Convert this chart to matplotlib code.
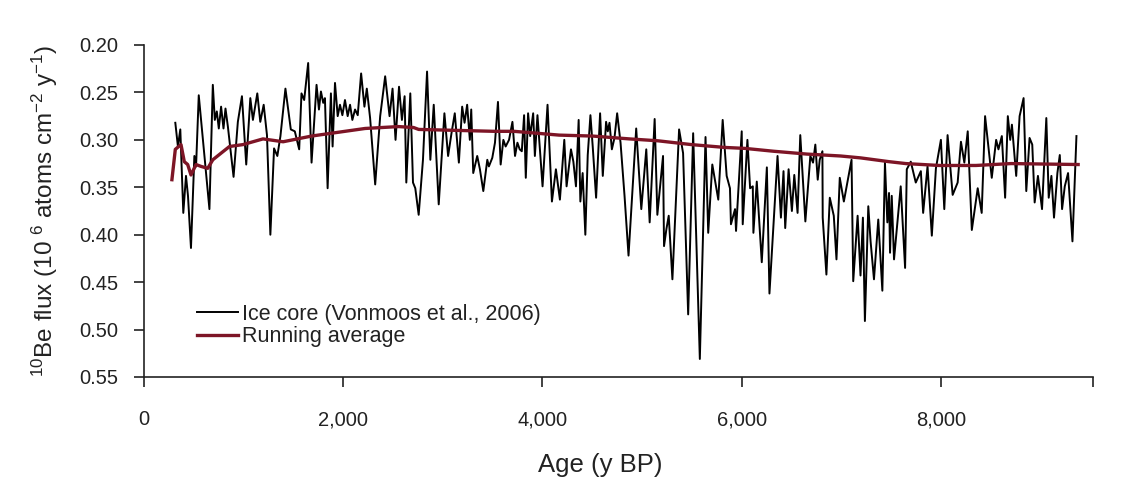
import matplotlib
matplotlib.use("Agg")
import matplotlib.pyplot as plt
from matplotlib.ticker import FixedLocator, FixedFormatter

plt.rcParams['font.family'] = ['Liberation Sans', 'DejaVu Sans']
plt.rcParams['mathtext.fontset'] = 'custom'
plt.rcParams['mathtext.rm'] = 'Liberation Sans'
plt.rcParams['mathtext.it'] = 'Liberation Sans'
plt.rcParams['mathtext.default'] = 'regular'

# ---- data ----
ice_age = [319, 345, 369, 399, 426, 446, 476, 510, 527, 554, 661, 695, 715, 735, 755, 778, 802, 822, 846,
           903, 946, 987, 1030, 1071, 1097, 1141, 1171, 1205, 1238, 1272, 1309, 1342, 1373,
           1423, 1477, 1517, 1561, 1584, 1611, 1651, 1685, 1735, 1759, 1779, 1802, 1819, 1846, 1879, 1896,
           1920, 1947, 1970, 1994, 2020, 2047, 2071, 2094, 2121, 2148, 2182, 2215, 2239, 2272, 2323, 2373,
           2423, 2467, 2497, 2527, 2562, 2591, 2618, 2635, 2675, 2702, 2725, 2759, 2802, 2843, 2876, 2910,
           2960, 3017, 3054, 3088, 3121, 3162, 3195, 3219, 3245, 3272, 3286, 3306, 3346, 3373, 3407, 3447,
           3463, 3497, 3524, 3554, 3581, 3608, 3631, 3665, 3699,
           3725, 3749, 3772, 3793, 3816, 3833, 3856, 3877, 3907, 3924, 3950, 4001, 4051, 4095, 4135, 4175,
           4219, 4242, 4286, 4310, 4336, 4363, 4380, 4403, 4430, 4454, 4481, 4504, 4538, 4578, 4605, 4638,
           4655, 4672, 4696, 4722, 4749, 4783, 4823, 4863,
           4940, 4991, 5041, 5075, 5125, 5152, 5209, 5219, 5243, 5266, 5303, 5370, 5410, 5461, 5511, 5578,
           5635, 5662, 5703, 5763, 5807, 5847, 5880, 5890, 5931, 5941, 5998,
           6008, 6055, 6082, 6109, 6115, 6149, 6199, 6250, 6276, 6357, 6391, 6417, 6434, 6468, 6501, 6525,
           6558, 6585, 6636, 6686, 6713, 6736, 6760, 6780, 6807, 6810, 6847, 6881, 6921, 6948, 6981, 7022,
           7099, 7116, 7160,
           7189, 7213, 7233, 7267, 7290, 7324, 7367, 7408, 7434, 7458, 7475, 7485, 7502, 7525, 7592, 7636,
           7653, 7693, 7743, 7794, 7817, 7861, 7904, 7945, 7995, 8029, 8062, 8113, 8163, 8196, 8230, 8264,
           8305,
           8364, 8404, 8438, 8505, 8549, 8572, 8606, 8639, 8666, 8690, 8707, 8750, 8784, 8824, 8851, 8884,
           8911, 8935, 8968, 9009, 9052, 9076, 9103, 9129, 9163, 9187, 9210, 9237, 9270, 9314, 9354]

ice_flux = [0.282, 0.307, 0.289, 0.377, 0.338, 0.359, 0.414, 0.317, 0.328, 0.253, 0.373, 0.242, 0.279, 0.270, 0.288, 0.265, 0.288, 0.267, 0.286,
            0.339, 0.281, 0.254, 0.326, 0.256, 0.279, 0.251, 0.281, 0.263, 0.295, 0.400, 0.309, 0.317, 0.296,
            0.246, 0.289, 0.291, 0.310, 0.251, 0.258, 0.219, 0.324, 0.242, 0.268, 0.249, 0.261, 0.256, 0.351, 0.251, 0.307,
            0.240, 0.275, 0.263, 0.274, 0.258, 0.275, 0.263, 0.279, 0.268, 0.274, 0.230, 0.265, 0.246, 0.277, 0.347, 0.275,
            0.233, 0.275, 0.246, 0.300, 0.244, 0.279, 0.254, 0.345, 0.251, 0.345, 0.351, 0.379, 0.321, 0.228, 0.321, 0.263,
            0.368, 0.272, 0.317, 0.293, 0.272, 0.324, 0.265, 0.282, 0.263, 0.300, 0.268, 0.335, 0.317, 0.331, 0.354, 0.321,
            0.328, 0.319, 0.303, 0.260, 0.326, 0.300, 0.307, 0.300, 0.281,
            0.317, 0.303, 0.310, 0.312, 0.274, 0.340, 0.272, 0.296, 0.272, 0.317, 0.274, 0.349, 0.263, 0.365, 0.331, 0.363,
            0.300, 0.349, 0.310, 0.323, 0.349, 0.279, 0.365, 0.335, 0.400, 0.316, 0.274, 0.307, 0.361, 0.272, 0.338, 0.281,
            0.291, 0.282, 0.310, 0.298, 0.272, 0.303, 0.359, 0.422,
            0.288, 0.373, 0.310, 0.387, 0.278, 0.379, 0.317, 0.412, 0.394, 0.380, 0.447, 0.289, 0.314, 0.484, 0.293, 0.531,
            0.297, 0.398, 0.326, 0.363, 0.279, 0.338, 0.351, 0.389, 0.373, 0.396, 0.291,
            0.389, 0.300, 0.351, 0.349, 0.398, 0.344, 0.429, 0.329, 0.462, 0.317, 0.382, 0.333, 0.393, 0.331, 0.375, 0.337,
            0.377, 0.295, 0.386, 0.317, 0.324, 0.305, 0.342, 0.321, 0.312, 0.382, 0.442, 0.361, 0.380, 0.426, 0.340, 0.365,
            0.321, 0.449, 0.380,
            0.443, 0.382, 0.491, 0.370, 0.407, 0.447, 0.384, 0.459, 0.324, 0.387, 0.356, 0.419, 0.359, 0.426, 0.349, 0.435,
            0.331, 0.323, 0.345, 0.333, 0.377, 0.328, 0.401, 0.330, 0.300, 0.373, 0.295, 0.358, 0.345, 0.302, 0.324, 0.291,
            0.395,
            0.351, 0.377, 0.275, 0.340, 0.300, 0.310, 0.296, 0.361, 0.275, 0.300, 0.284, 0.338, 0.275, 0.256, 0.354, 0.298,
            0.305, 0.366, 0.338, 0.373, 0.277, 0.361, 0.338, 0.382, 0.335, 0.316, 0.373, 0.349, 0.335, 0.407, 0.296]

avg_age = [285, 319, 376, 409, 443, 476, 527, 577, 644, 695, 778, 862, 997, 1064, 1198, 1400, 1685, 2020,
           2222, 2557, 2708, 2759, 3514, 3715, 4168, 4504, 4873, 5159, 5494, 5830, 6031, 6317, 6652,
           6988, 7189, 7475, 7643, 7978, 8347, 8700, 9371]
avg_flux = [0.342, 0.310, 0.305, 0.323, 0.326, 0.337, 0.326, 0.328, 0.330, 0.321, 0.314, 0.307, 0.305, 0.303,
            0.299, 0.302, 0.296, 0.291, 0.288, 0.286, 0.287, 0.289, 0.291, 0.291, 0.295, 0.296, 0.299, 0.301,
            0.305, 0.308, 0.309, 0.312, 0.315, 0.317, 0.319, 0.323, 0.325, 0.327, 0.327, 0.325, 0.326]

x_ticks = [0, 2000, 4000, 6000, 8000, 9520]
x_tick_labels = ["0", "2,000", "4,000", "6,000", "8,000", ""]
y_ticks = [0.20, 0.25, 0.30, 0.35, 0.40, 0.45, 0.50, 0.55]
y_tick_labels = ["0.20", "0.25", "0.30", "0.35", "0.40", "0.45", "0.50", "0.55"]

# ---- figure ----
W, H = 1124, 504
fig = plt.figure(figsize=(W / 100, H / 100), dpi=100)
left, right, top, bottom = 143.5, 1093, 45, 377
ax = fig.add_axes([left / W, 1 - bottom / H, (right - left) / W, (bottom - top) / H])

ax.plot(ice_age, ice_flux, color='black', lw=1.4, label='Ice core (Vonmoos et al., 2006)', zorder=2)
ax.plot(avg_age, avg_flux, color='#7d1526', lw=2.4, label='Running average', zorder=3)

ax.set_xlim(0, 9520)
ax.set_ylim(0.55, 0.20)

ax.xaxis.set_major_locator(FixedLocator(x_ticks))
ax.xaxis.set_major_formatter(FixedFormatter(x_tick_labels))
ax.yaxis.set_major_locator(FixedLocator(y_ticks))
ax.yaxis.set_major_formatter(FixedFormatter(y_tick_labels))

for s in ['top', 'right']:
    ax.spines[s].set_visible(False)
for s in ['left', 'bottom']:
    ax.spines[s].set_linewidth(1.2)
    ax.spines[s].set_color('#222222')

ax.tick_params(axis='both', direction='out', length=7, width=1.2, color='#222222',
               labelsize=14.5, labelcolor='#222222')
ax.tick_params(axis='x', pad=17)
ax.tick_params(axis='y', pad=11)

ax.set_xlabel('Age (y BP)', fontsize=18.5, color='#222222')
ax.xaxis.set_label_coords(0.481, -0.264, transform=ax.transAxes)
ax.xaxis.label.set_va('center')
ax.set_ylabel('$^{10}$Be flux (10 $^{6}$ atoms cm$^{-2}$ y$^{-1}$)', fontsize=17.5,
              color='#222222', labelpad=14)

ax.legend(loc='upper left', bbox_to_anchor=(0.056, 0.22), frameon=False, fontsize=15.5,
          borderaxespad=0, borderpad=0, handlelength=1.9, handletextpad=0.2,
          labelspacing=0.05, labelcolor='#222222')

fig.savefig('out.png', dpi=100, facecolor='white')
